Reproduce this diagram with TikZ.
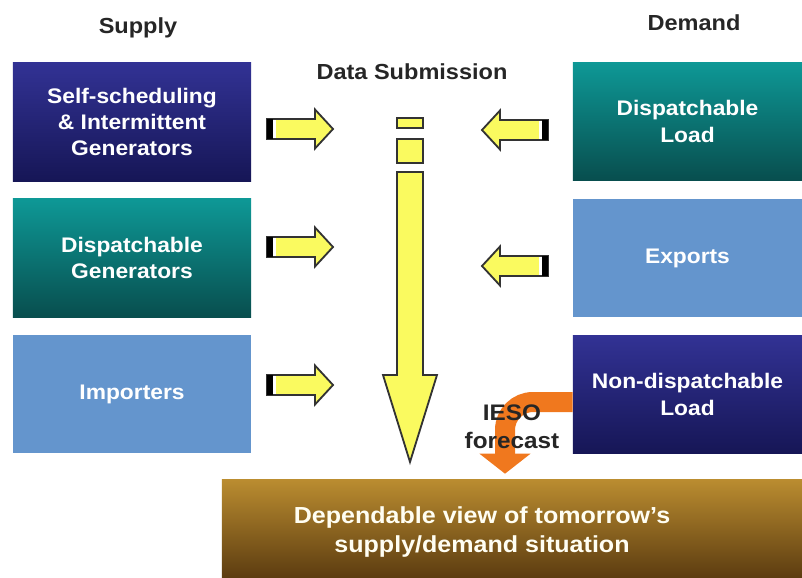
\documentclass[tikz,border=0pt]{standalone}
\usepackage{fontspec}
\setmainfont{Liberation Sans}[FakeStretch=1.08]
\usetikzlibrary{arrows.meta}
\definecolor{navytop}{RGB}{50,50,148}
\definecolor{navybot}{RGB}{22,22,86}
\definecolor{tealtop}{RGB}{14,152,150}
\definecolor{tealbot}{RGB}{8,78,78}
\definecolor{lightblu}{RGB}{100,149,205}
\definecolor{goldtop}{RGB}{186,140,48}
\definecolor{goldbot}{RGB}{92,60,16}
\definecolor{arrowyellow}{RGB}{250,250,95}
\definecolor{fcorange}{RGB}{240,120,30}
\begin{document}
\begin{tikzpicture}[x=0.025cm, y=-0.025cm, line join=miter,
box/.style={minimum height=2.95cm, inner sep=0pt, align=center, text=white, font=\bfseries\fontsize{15}{18.8}\selectfont},
left box/.style={box, minimum width=5.95cm},
right box/.style={box, minimum width=5.725cm},
navy fill/.style={top color=navytop, bottom color=navybot},
teal fill/.style={top color=tealtop, bottom color=tealbot},
blue fill/.style={fill=lightblu},
head/.style={font=\bfseries\fontsize{15.5}{18}\selectfont, text=black!85},
yarrow/.style={draw=black!80, fill=arrowyellow, line width=1.3pt},
fcarrow/.style={draw=fcorange, line width=0.5cm, rounded corners=0.7cm, -{Triangle[width=1.25cm,length=0.5cm]}}]
\useasboundingbox (0,0) rectangle (802,578);
\begin{scope}
\node[head] (supply) at (138,28) {Supply};
\node[head] (demand) at (694,23) {Demand};
\node[head] (datasub) at (412,72) {Data Submission};
\end{scope}
\begin{scope}
\node[left box, navy fill] (selfsched) at (132,122) {Self-scheduling\\\& Intermittent\\Generators};
\node[left box, teal fill] (dispgen) at (132,258) {Dispatchable\\Generators};
\node[left box, blue fill] (importers) at (132,394) {Importers};
\node[right box, teal fill] (dispload) at (687.5,121.5) {Dispatchable\\Load};
\node[right box, blue fill] (exports) at (687.5,258) {Exports};
\node[right box, navy fill] (nondisp) at (687.5,394.5) {Non-dispatchable\\Load};
\node[minimum width=14.5cm, minimum height=2.45cm, top color=goldtop, bottom color=goldbot] (result) at (512,529) {};
\node[align=center, text=white!95!yellow, font=\bfseries\fontsize{16.5}{20.6}\selectfont] (resulttext) at (482,532) {Dependable view of tomorrow's\\supply/demand situation};
\end{scope}
%supply arrows
\begin{scope}[shift={(267,129)}]
\draw[yarrow] (0,-10) -- (48,-10) -- (48,-19.5) -- (66,0) -- (48,19.5) -- (48,10) -- (0,10) -- cycle;
\fill[black] (0,-10) rectangle (6,10);
\fill[white] (6,-9) rectangle (9,9);
\end{scope}
\begin{scope}[shift={(267,247)}]
\draw[yarrow] (0,-10) -- (48,-10) -- (48,-19.5) -- (66,0) -- (48,19.5) -- (48,10) -- (0,10) -- cycle;
\fill[black] (0,-10) rectangle (6,10);
\fill[white] (6,-9) rectangle (9,9);
\end{scope}
\begin{scope}[shift={(267,385)}]
\draw[yarrow] (0,-10) -- (48,-10) -- (48,-19.5) -- (66,0) -- (48,19.5) -- (48,10) -- (0,10) -- cycle;
\fill[black] (0,-10) rectangle (6,10);
\fill[white] (6,-9) rectangle (9,9);
\end{scope}
%demand arrows
\begin{scope}[shift={(548,130)}, xscale=-1]
\draw[yarrow] (0,-10) -- (48,-10) -- (48,-19.5) -- (66,0) -- (48,19.5) -- (48,10) -- (0,10) -- cycle;
\fill[black] (0,-10) rectangle (6,10);
\fill[white] (6,-9) rectangle (9,9);
\end{scope}
\begin{scope}[shift={(548,266)}, xscale=-1]
\draw[yarrow] (0,-10) -- (48,-10) -- (48,-19.5) -- (66,0) -- (48,19.5) -- (48,10) -- (0,10) -- cycle;
\fill[black] (0,-10) rectangle (6,10);
\fill[white] (6,-9) rectangle (9,9);
\end{scope}
%data column
\draw[yarrow] (397,118) rectangle (423,128);
\draw[yarrow] (397,139) rectangle (423,163);
\draw[yarrow] (397,172) -- (423,172) -- (423,375) -- (437,375) -- (410,462) -- (383,375) -- (397,375) -- cycle;
%forecast
\coordinate (fcbend) at (505,402);
\draw[fcarrow] (nondisp.west |- fcbend) -| ([yshift=0.15cm]result.north -| fcbend);
\node[align=center, font=\bfseries\fontsize{16}{20}\selectfont, text=black!85] (ieso) at (512,427) {IESO\\forecast};
\end{tikzpicture}
\end{document}
